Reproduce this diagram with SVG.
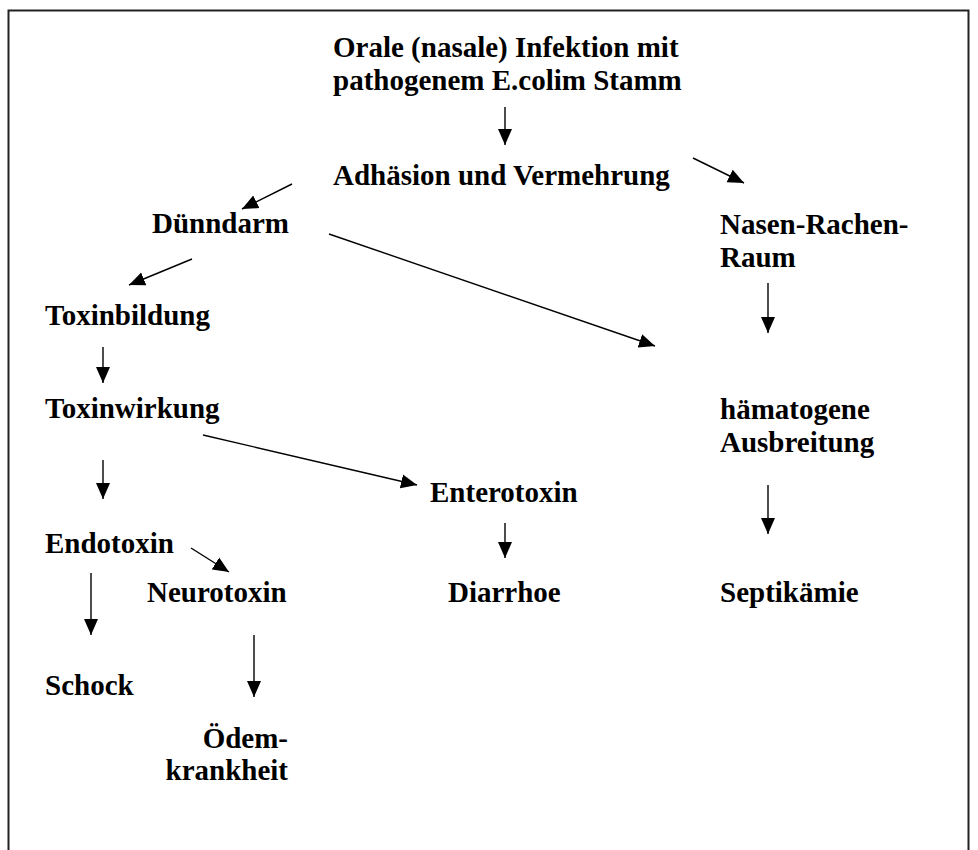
<svg xmlns="http://www.w3.org/2000/svg" width="978" height="850" viewBox="0 0 978 850">
<style>
text{font-family:"Liberation Serif","Times New Roman",serif;font-weight:bold;font-size:29px;fill:#000}
.c line{stroke:#000;stroke-width:1.4;fill:none}
</style>
<defs>
<marker id="ah" markerUnits="userSpaceOnUse" markerWidth="17" markerHeight="15" refX="16" refY="7.5" orient="auto">
<path d="M0,0.5 L16,7.5 L0,14.5 Z" fill="#000"/>
</marker>
</defs>
<rect x="0" y="0" width="978" height="850" fill="#fff"/>
<path d="M8.5,860 L8.5,10.5 L968.5,10.5 L968.5,860" fill="none" stroke="#222" stroke-width="2"/>
<g id="n-infektion"><text x="333" y="57">Orale (nasale) Infektion mit</text><text x="333" y="90">pathogenem E.colim Stamm</text></g>
<g id="n-adhaesion"><text x="333" y="185">Adhäsion und Vermehrung</text></g>
<g id="n-duenndarm"><text x="152" y="233">Dünndarm</text></g>
<g id="n-nasen"><text x="720" y="234">Nasen-Rachen-</text><text x="720" y="267">Raum</text></g>
<g id="n-toxinbildung"><text x="45" y="325">Toxinbildung</text></g>
<g id="n-toxinwirkung"><text x="45" y="418">Toxinwirkung</text></g>
<g id="n-haematogen"><text x="720" y="419">hämatogene</text><text x="720" y="452">Ausbreitung</text></g>
<g id="n-enterotoxin"><text x="430" y="502">Enterotoxin</text></g>
<g id="n-endotoxin"><text x="45" y="553">Endotoxin</text></g>
<g id="n-neurotoxin"><text x="147" y="602">Neurotoxin</text></g>
<g id="n-diarrhoe"><text x="448" y="602">Diarrhoe</text></g>
<g id="n-septikaemie"><text x="720" y="602">Septikämie</text></g>
<g id="n-schock"><text x="45" y="695">Schock</text></g>
<g id="n-oedem"><text x="288" y="748" text-anchor="end">Ödem-</text><text x="288" y="780" text-anchor="end">krankheit</text></g>
<g id="connectors" class="c">
<line x1="505" y1="107" x2="505" y2="145" marker-end="url(#ah)"/>
<line x1="693" y1="158" x2="744" y2="183" marker-end="url(#ah)"/>
<line x1="292" y1="184" x2="242" y2="209" marker-end="url(#ah)"/>
<line x1="329" y1="234" x2="655" y2="346" marker-end="url(#ah)"/>
<line x1="768" y1="283" x2="768" y2="333" marker-end="url(#ah)"/>
<line x1="192" y1="259" x2="129" y2="285" marker-end="url(#ah)"/>
<line x1="103" y1="347" x2="103" y2="383" marker-end="url(#ah)"/>
<line x1="203" y1="435" x2="417" y2="485" marker-end="url(#ah)"/>
<line x1="103" y1="460" x2="103" y2="499" marker-end="url(#ah)"/>
<line x1="768" y1="485" x2="768" y2="534" marker-end="url(#ah)"/>
<line x1="505" y1="523" x2="505" y2="558" marker-end="url(#ah)"/>
<line x1="191" y1="548" x2="229" y2="572" marker-end="url(#ah)"/>
<line x1="91" y1="573" x2="91" y2="635" marker-end="url(#ah)"/>
<line x1="254" y1="635" x2="254" y2="697" marker-end="url(#ah)"/>
</g>
</svg>
